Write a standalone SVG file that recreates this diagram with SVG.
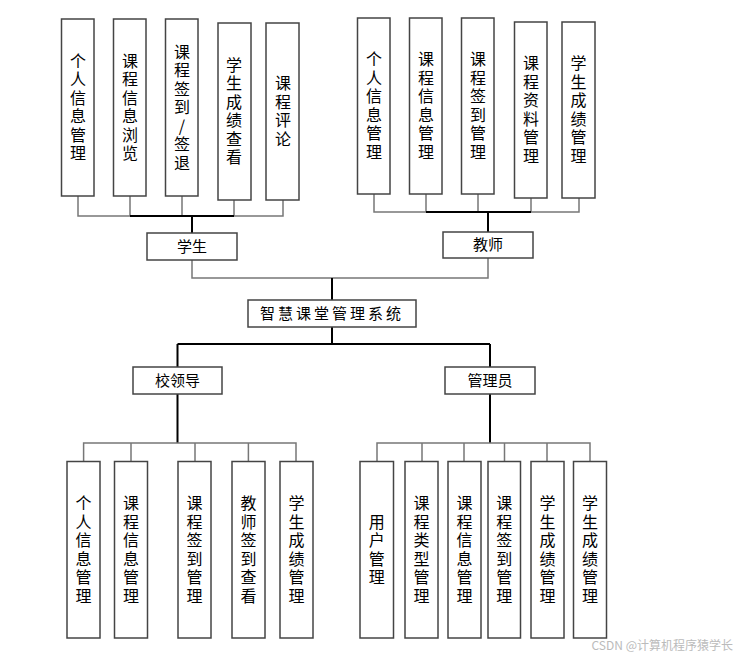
<svg xmlns="http://www.w3.org/2000/svg" width="743" height="658" viewBox="0 0 743 658">
<style>
.b{fill:#fff;stroke:#444;stroke-width:1.5}
.t{font-family:"Noto Sans CJK SC","Liberation Sans",sans-serif;font-size:15px;fill:#000;text-anchor:middle}
.v{font-family:"Noto Sans CJK SC","Liberation Sans",sans-serif;font-size:16px;fill:#000;text-anchor:middle}
.g{fill:none;stroke:#777;stroke-width:1.5}
.k{fill:none;stroke:#000;stroke-width:2}
</style>
<rect width="743" height="658" fill="#fff"/>
<g id="connectors">
<path class="g" d="M78 196V216H283V200M130 196V216M182 196V216M234 200V216"/>
<path class="k" d="M130 216H234M192 216V233"/>
<path class="g" d="M374 194V212H579V198M426 194V212M478 194V212M531 198V212"/>
<path class="k" d="M426 212H531M488 212V232"/>
<path class="g" d="M192 260V278H488V258"/>
<path class="k" d="M332 278V300M332 327V344"/>
<path class="k" d="M177.5 344H490M177.5 344V367M490 344V367"/>
<path class="k" d="M177.5 394V443M490 394V443"/>
<path class="g" d="M83.6 461V443H296V461M131 443V461M195 443V461M248.4 443V461"/>
<path class="g" d="M377 461V443H590V461M422 443V461M464 443V461M504.5 443V461M547 443V461"/>
</g>
<g id="sys"><rect class="b" x="248" y="300" width="168" height="27"/><text class="t" x="332" y="319" letter-spacing="3">智慧课堂管理系统</text></g>
<g id="student"><rect class="b" x="147" y="233" width="90" height="27"/><text class="t" x="192" y="252">学生</text></g>
<g id="teacher"><rect class="b" x="443" y="232" width="90" height="26"/><text class="t" x="488" y="250">教师</text></g>
<g id="leader"><rect class="b" x="133" y="367" width="89" height="27"/><text class="t" x="177.5" y="386">校领导</text></g>
<g id="admin"><rect class="b" x="445" y="367" width="90" height="27"/><text class="t" x="490" y="386">管理员</text></g>

<g id="s1"><rect class="b" x="61.5" y="19" width="32.5" height="177"/><text class="v" x="78" y="66.75"><tspan x="78">个</tspan><tspan x="78" dy="18.5">人</tspan><tspan x="78" dy="18.5">信</tspan><tspan x="78" dy="18.5">息</tspan><tspan x="78" dy="18.5">管</tspan><tspan x="78" dy="18.5">理</tspan></text></g>
<g id="s2"><rect class="b" x="113.5" y="19" width="32.5" height="177"/><text class="v" x="130" y="66.75"><tspan x="130">课</tspan><tspan x="130" dy="18.5">程</tspan><tspan x="130" dy="18.5">信</tspan><tspan x="130" dy="18.5">息</tspan><tspan x="130" dy="18.5">浏</tspan><tspan x="130" dy="18.5">览</tspan></text></g>
<g id="s3"><rect class="b" x="165.5" y="19" width="32.5" height="177"/><text class="v" x="182" y="57.5"><tspan x="182">课</tspan><tspan x="182" dy="18.5">程</tspan><tspan x="182" dy="18.5">签</tspan><tspan x="182" dy="18.5">到</tspan><tspan x="182" dy="18.5">/</tspan><tspan x="182" dy="18.5">签</tspan><tspan x="182" dy="18.5">退</tspan></text></g>
<g id="s4"><rect class="b" x="218" y="23" width="33" height="177"/><text class="v" x="234" y="70.75"><tspan x="234">学</tspan><tspan x="234" dy="18.5">生</tspan><tspan x="234" dy="18.5">成</tspan><tspan x="234" dy="18.5">绩</tspan><tspan x="234" dy="18.5">查</tspan><tspan x="234" dy="18.5">看</tspan></text></g>
<g id="s5"><rect class="b" x="266" y="23" width="33" height="177"/><text class="v" x="283" y="89.25"><tspan x="283">课</tspan><tspan x="283" dy="18.5">程</tspan><tspan x="283" dy="18.5">评</tspan><tspan x="283" dy="18.5">论</tspan></text></g>

<g id="t1"><rect class="b" x="357.5" y="18" width="32.5" height="176"/><text class="v" x="374" y="65.25"><tspan x="374">个</tspan><tspan x="374" dy="18.5">人</tspan><tspan x="374" dy="18.5">信</tspan><tspan x="374" dy="18.5">息</tspan><tspan x="374" dy="18.5">管</tspan><tspan x="374" dy="18.5">理</tspan></text></g>
<g id="t2"><rect class="b" x="409.5" y="18" width="32.5" height="176"/><text class="v" x="426" y="65.25"><tspan x="426">课</tspan><tspan x="426" dy="18.5">程</tspan><tspan x="426" dy="18.5">信</tspan><tspan x="426" dy="18.5">息</tspan><tspan x="426" dy="18.5">管</tspan><tspan x="426" dy="18.5">理</tspan></text></g>
<g id="t3"><rect class="b" x="461.5" y="18" width="32.5" height="176"/><text class="v" x="478" y="65.25"><tspan x="478">课</tspan><tspan x="478" dy="18.5">程</tspan><tspan x="478" dy="18.5">签</tspan><tspan x="478" dy="18.5">到</tspan><tspan x="478" dy="18.5">管</tspan><tspan x="478" dy="18.5">理</tspan></text></g>
<g id="t4"><rect class="b" x="514.5" y="22" width="32.5" height="176"/><text class="v" x="531" y="69.25"><tspan x="531">课</tspan><tspan x="531" dy="18.5">程</tspan><tspan x="531" dy="18.5">资</tspan><tspan x="531" dy="18.5">料</tspan><tspan x="531" dy="18.5">管</tspan><tspan x="531" dy="18.5">理</tspan></text></g>
<g id="t5"><rect class="b" x="562" y="22" width="33" height="176"/><text class="v" x="578.5" y="69.25"><tspan x="578.5">学</tspan><tspan x="578.5" dy="18.5">生</tspan><tspan x="578.5" dy="18.5">成</tspan><tspan x="578.5" dy="18.5">绩</tspan><tspan x="578.5" dy="18.5">管</tspan><tspan x="578.5" dy="18.5">理</tspan></text></g>

<g id="l1"><rect class="b" x="67" y="461.5" width="33" height="176.5"/><text class="v" x="83.5" y="509.25"><tspan x="83.5">个</tspan><tspan x="83.5" dy="18.5">人</tspan><tspan x="83.5" dy="18.5">信</tspan><tspan x="83.5" dy="18.5">息</tspan><tspan x="83.5" dy="18.5">管</tspan><tspan x="83.5" dy="18.5">理</tspan></text></g>
<g id="l2"><rect class="b" x="114.5" y="461.5" width="33" height="176.5"/><text class="v" x="131" y="509.25"><tspan x="131">课</tspan><tspan x="131" dy="18.5">程</tspan><tspan x="131" dy="18.5">信</tspan><tspan x="131" dy="18.5">息</tspan><tspan x="131" dy="18.5">管</tspan><tspan x="131" dy="18.5">理</tspan></text></g>
<g id="l3"><rect class="b" x="178" y="461.5" width="33" height="176.5"/><text class="v" x="194.5" y="509.25"><tspan x="194.5">课</tspan><tspan x="194.5" dy="18.5">程</tspan><tspan x="194.5" dy="18.5">签</tspan><tspan x="194.5" dy="18.5">到</tspan><tspan x="194.5" dy="18.5">管</tspan><tspan x="194.5" dy="18.5">理</tspan></text></g>
<g id="l4"><rect class="b" x="232" y="461.5" width="33" height="176.5"/><text class="v" x="248.5" y="509.25"><tspan x="248.5">教</tspan><tspan x="248.5" dy="18.5">师</tspan><tspan x="248.5" dy="18.5">签</tspan><tspan x="248.5" dy="18.5">到</tspan><tspan x="248.5" dy="18.5">查</tspan><tspan x="248.5" dy="18.5">看</tspan></text></g>
<g id="l5"><rect class="b" x="280" y="461.5" width="33" height="176.5"/><text class="v" x="296.5" y="509.25"><tspan x="296.5">学</tspan><tspan x="296.5" dy="18.5">生</tspan><tspan x="296.5" dy="18.5">成</tspan><tspan x="296.5" dy="18.5">绩</tspan><tspan x="296.5" dy="18.5">管</tspan><tspan x="296.5" dy="18.5">理</tspan></text></g>

<g id="a1"><rect class="b" x="360" y="461.5" width="33.5" height="176.5"/><text class="v" x="376.75" y="527.75"><tspan x="376.75">用</tspan><tspan x="376.75" dy="18.5">户</tspan><tspan x="376.75" dy="18.5">管</tspan><tspan x="376.75" dy="18.5">理</tspan></text></g>
<g id="a2"><rect class="b" x="405" y="461.5" width="33" height="176.5"/><text class="v" x="421.5" y="509.25"><tspan x="421.5">课</tspan><tspan x="421.5" dy="18.5">程</tspan><tspan x="421.5" dy="18.5">类</tspan><tspan x="421.5" dy="18.5">型</tspan><tspan x="421.5" dy="18.5">管</tspan><tspan x="421.5" dy="18.5">理</tspan></text></g>
<g id="a3"><rect class="b" x="448" y="461.5" width="33" height="176.5"/><text class="v" x="464.5" y="509.25"><tspan x="464.5">课</tspan><tspan x="464.5" dy="18.5">程</tspan><tspan x="464.5" dy="18.5">信</tspan><tspan x="464.5" dy="18.5">息</tspan><tspan x="464.5" dy="18.5">管</tspan><tspan x="464.5" dy="18.5">理</tspan></text></g>
<g id="a4"><rect class="b" x="488" y="461.5" width="32.5" height="176.5"/><text class="v" x="504.25" y="509.25"><tspan x="504.25">课</tspan><tspan x="504.25" dy="18.5">程</tspan><tspan x="504.25" dy="18.5">签</tspan><tspan x="504.25" dy="18.5">到</tspan><tspan x="504.25" dy="18.5">管</tspan><tspan x="504.25" dy="18.5">理</tspan></text></g>
<g id="a5"><rect class="b" x="531" y="461.5" width="33" height="176.5"/><text class="v" x="547.5" y="509.25"><tspan x="547.5">学</tspan><tspan x="547.5" dy="18.5">生</tspan><tspan x="547.5" dy="18.5">成</tspan><tspan x="547.5" dy="18.5">绩</tspan><tspan x="547.5" dy="18.5">管</tspan><tspan x="547.5" dy="18.5">理</tspan></text></g>
<g id="a6"><rect class="b" x="573.5" y="461.5" width="33" height="176.5"/><text class="v" x="590" y="509.25"><tspan x="590">学</tspan><tspan x="590" dy="18.5">生</tspan><tspan x="590" dy="18.5">成</tspan><tspan x="590" dy="18.5">绩</tspan><tspan x="590" dy="18.5">管</tspan><tspan x="590" dy="18.5">理</tspan></text></g>

<text x="733" y="650" font-family="Noto Sans CJK SC,Liberation Sans,sans-serif" font-size="12" fill="#bbb" text-anchor="end">CSDN @计算机程序猿学长</text>
</svg>
